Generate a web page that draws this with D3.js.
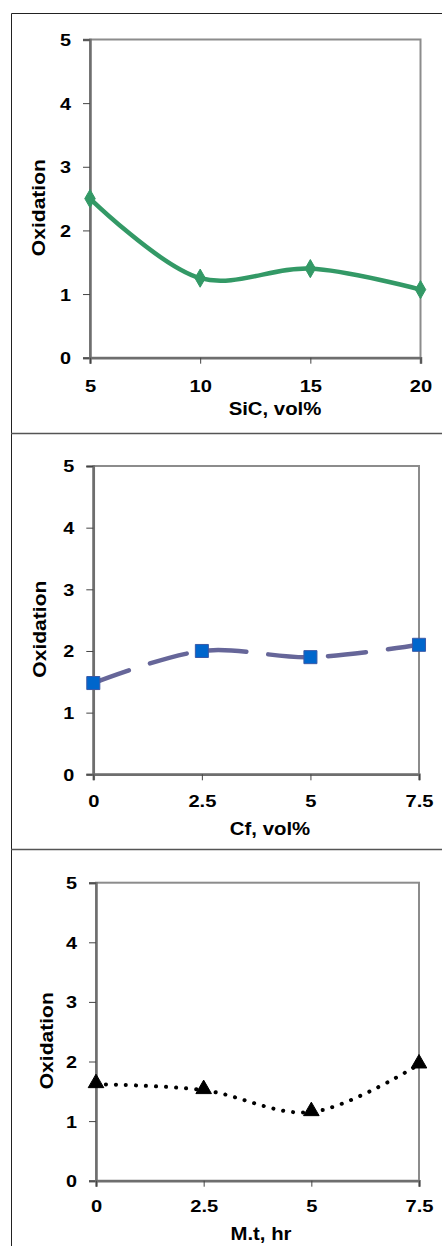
<!DOCTYPE html>
<html>
<head>
<meta charset="utf-8">
<script src="https://cdn.jsdelivr.net/npm/d3@7"></script>
<style>
  body { margin: 0; background: #fff; }
  svg { display: block; }
  text { font-family: "Liberation Sans", Arial, sans-serif; font-weight: bold; fill: #000; }
</style>
</head>
<body>
<svg id="chart" width="442" height="1246"></svg>
<script>
// data
const sicX = [5, 10, 15, 20];
const sicY = [2.5, 1.25, 1.4, 1.07];
const cfX = [0, 2.5, 5, 7.5];
const cfY = [1.48, 2.0, 1.9, 2.1];
const mtX = [0, 2.5, 5, 7.5];
const mtY = [1.62, 1.52, 1.15, 1.95];
const yTicks = [0, 1, 2, 3, 4, 5];
const xTitles = ["SiC, vol%", "Cf, vol%", "M.t, hr"];

const svg = d3.select("#chart");

// text in the original is a bit wider than Arial, stretch it
function stretch(sel, k) {
  sel.each(function () {
    const w = this.getComputedTextLength();
    this.setAttribute("textLength", w * k);
    this.setAttribute("lengthAdjust", "spacingAndGlyphs");
  });
}

// outer frame + separators
svg.append("path")
  .attr("d", "M442,13.5H11.5V1246")
  .attr("fill", "none").attr("stroke", "#222").attr("stroke-width", 1);
[433.5, 849.5].forEach(function (y) {
  svg.append("line").attr("x1", 11).attr("x2", 442).attr("y1", y).attr("y2", y)
    .attr("stroke", "#555").attr("stroke-width", 1.5);
});

function drawPanel(p) {
  const x = d3.scaleLinear().domain(p.xDomain).range([p.left, p.right]);
  const y = d3.scaleLinear().domain([0, 5]).range([p.bottom, p.top]);
  const g = svg.append("g");

  // plot frame
  g.append("rect")
    .attr("x", p.left).attr("y", p.top)
    .attr("width", p.right - p.left).attr("height", p.bottom - p.top)
    .attr("fill", "none").attr("stroke", "#8c8c8c").attr("stroke-width", 2);

  const ya = g.append("g").attr("transform", "translate(" + p.left + ",0)")
    .call(d3.axisLeft(y).tickValues(yTicks).tickSize(7).tickFormat(d3.format("d")));
  ya.select(".domain").attr("stroke", "#6e6e6e").attr("stroke-width", 2.5);
  ya.selectAll(".tick line").attr("stroke", "#444");
  ya.selectAll("text")
    .attr("x", -19).attr("dy", "0.36em")
    .style("font-size", "16.5px").style("font-family", "Liberation Sans, Arial").style("font-weight", "bold").attr("fill", "#000")
    .call(stretch, 1.2);

  const xa = g.append("g").attr("transform", "translate(0," + p.bottom + ")")
    .call(d3.axisBottom(x).tickValues(p.xs).tickSize(6).tickFormat(function (d) { return String(d); }));
  xa.select(".domain").attr("stroke", "#6e6e6e").attr("stroke-width", 2.5);
  xa.selectAll(".tick line").attr("stroke", "#444");
  xa.selectAll("text")
    .attr("y", p.tickBase).attr("dy", 0)
    .style("font-size", "16.5px").style("font-family", "Liberation Sans, Arial").style("font-weight", "bold").attr("fill", "#000")
    .call(stretch, 1.22);

  g.append("text")
    .attr("transform", "translate(" + p.yLabelX + "," + ((p.top + p.bottom) / 2 + 9) + ") rotate(-90)")
    .attr("text-anchor", "middle")
    .style("font-size", "18px").text("Oxidation")
    .call(stretch, 1.17);

  g.append("text")
    .attr("x", p.titleX).attr("y", p.titleY)
    .attr("text-anchor", "middle")
    .style("font-size", "18px").text(p.title)
    .call(stretch, 1.13);

  const pts = p.xs.map(function (v, i) { return [v, p.ys[i]]; });
  const line = d3.line()
    .x(function (d) { return x(d[0]); })
    .y(function (d) { return y(d[1]); })
    .curve(d3.curveCatmullRom.alpha(0.5));

  g.append("path").datum(pts)
    .attr("fill", "none")
    .attr("stroke", p.color)
    .attr("stroke-width", p.width)
    .attr("stroke-linecap", p.cap)
    .attr("stroke-dasharray", p.dash)
    .attr("d", line);

  g.selectAll(".pt").data(pts).enter().append("path")
    .attr("transform", function (d) { return "translate(" + x(d[0]) + "," + (y(d[1]) + p.symDy) + ")"; })
    .attr("d", d3.symbol().type(p.symbol).size(p.symSize))
    .attr("fill", p.mFill)
    .attr("stroke", p.mStroke)
    .attr("stroke-width", 1);
}

drawPanel({
  xDomain: [5, 20], xs: sicX, ys: sicY, title: xTitles[0],
  left: 90, right: 420.5, top: 39.5, bottom: 357.7,
  tickBase: 34, yLabelX: 45, titleX: 275, titleY: 415,
  color: "#339966", width: 4.5, cap: "round", dash: null,
  symbol: d3.symbolDiamond, symSize: 95, symDy: 0, mFill: "#339966", mStroke: "#339966"
});
drawPanel({
  xDomain: [0, 7.5], xs: cfX, ys: cfY, title: xTitles[1],
  left: 93.3, right: 419, top: 466, bottom: 774.3,
  tickBase: 33, yLabelX: 46, titleX: 270, titleY: 835,
  color: "#666699", width: 4.5, cap: "round", dash: "38,22",
  symbol: d3.symbolSquare, symSize: 170, symDy: 0, mFill: "#0066cc", mStroke: "#3a5aa8"
});
drawPanel({
  xDomain: [0, 7.5], xs: mtX, ys: mtY, title: xTitles[2],
  left: 96, right: 419, top: 882.7, bottom: 1180.7,
  tickBase: 31, yLabelX: 53, titleX: 261, titleY: 1240,
  color: "#000", width: 4, cap: "round", dash: "0.1,9.9",
  symbol: d3.symbolTriangle, symSize: 105, symDy: -1, mFill: "#000", mStroke: "#000"
});
</script>
</body>
</html>
